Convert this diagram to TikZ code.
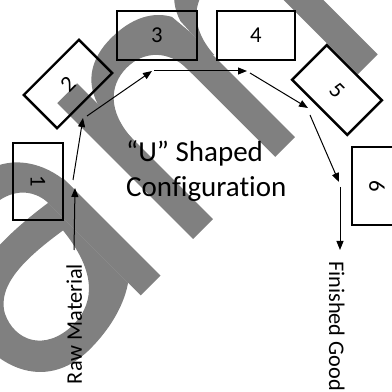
\documentclass[tikz,border=0pt]{standalone}
\usepackage{fontspec}
\setmainfont{Carlito}[RawFeature={-liga}]
\usetikzlibrary{arrows.meta}
\definecolor{wm}{gray}{0.5}
\begin{document}
\begin{tikzpicture}[x=1pt,y=1pt,
  station/.style={draw=black, line width=2.4pt, inner sep=0pt,
    font=\fontsize{22.7}{27}\selectfont},
  flow/.style={line width=1pt, -{Triangle[length=9pt,width=7pt]}},
  lbl/.style={inner sep=0pt, font=\fontsize{22.3}{27}\selectfont},
  title/.style={inner sep=0pt, anchor=base west, font=\fontsize{29}{35}\selectfont}]
\useasboundingbox (0,0) rectangle (392,392);

% background lettering, set along the diagonal
\begin{scope}[shift={(203,163)}, rotate=45, wm]
  % letter a: stem, hook and bowl
  \fill (-91,-3) rectangle (-63,135);
  \fill (-63,120) -- (-63,125) .. controls (-64,160) and (-85,195) .. (-128,197)
        .. controls (-160,198) and (-180,185) .. (-190,165)
        -- (-175,145) .. controls (-165,158) and (-150,167) .. (-128,165)
        .. controls (-105,162) and (-93,148) .. (-91,130) -- (-91,120) -- cycle;
  \fill[even odd rule]
        (-91,128) .. controls (-140,135) and (-215,140) .. (-232,95)
        .. controls (-245,55) and (-230,-5) .. (-165,-5)
        .. controls (-130,-5) and (-105,5) .. (-91,15) -- cycle
        (-100,98) .. controls (-140,104) and (-185,108) .. (-200,80)
        .. controls (-212,55) and (-200,25) .. (-160,24)
        .. controls (-125,24) and (-105,50) .. (-100,98) -- cycle;
  % letter m: three stems and two arches
  \fill (-14,0) rectangle (14,192);
  \fill (102,0) rectangle (130,150);
  \fill (219,0) rectangle (247,150);
  \foreach \d in {0,117} {
    \fill (\d+12,118) -- (\d+14,163) .. controls (\d+22,188) and (\d+42,200) .. (\d+70,200)
          .. controls (\d+98,200) and (\d+118,190) .. (\d+128,172)
          -- (\d+130,150) -- (\d+130,118) -- (\d+102,118) -- (\d+102,125)
          .. controls (\d+102,150) and (\d+85,168) .. (\d+60,168)
          .. controls (\d+35,168) and (\d+16,150) .. (\d+14,115) -- cycle;
  }
\end{scope}

% work stations
\node[station, minimum width=77pt, minimum height=50pt, rotate=-90] (s1) at (38,210.5) {1};
\node[station, minimum width=78pt, minimum height=47pt, rotate=45] (s2) at (68,308) {2};
\node[station, minimum width=80pt, minimum height=49pt] (s3) at (157,356.5) {3};
\node[station, minimum width=78pt, minimum height=49pt] (s4) at (256,356.5) {4};
\node[station, minimum width=78pt, minimum height=49pt, rotate=-45] (s5) at (337,302) {5};
\node[station, minimum width=78pt, minimum height=50pt, rotate=-90] (s6) at (377,206) {6};

% flow path
\coordinate (r0) at (74,142);  \coordinate (r1) at (75,204);
\coordinate (q0) at (73,212);  \coordinate (q1) at (83,274);
\coordinate (q2) at (87,276);  \coordinate (q3) at (152,321);
\coordinate (q4) at (154,321); \coordinate (q5) at (247,321);
\coordinate (q6) at (250,319); \coordinate (q7) at (308,284);
\coordinate (q8) at (310,277); \coordinate (q9) at (339,210);
\coordinate (f0) at (340,205); \coordinate (f1) at (340,142);
\draw[flow] (r0) -- (r1);
\draw[flow] (q0) -- (q1);
\draw[flow] (q2) -- (q3);
\draw[flow] (q4) -- (q5);
\draw[flow] (q6) -- (q7);
\draw[flow] (q8) -- (q9);
\draw[flow] (f0) -- (f1);

% labels
\node[title] (t1) at (126,230) {“U” Shaped};
\node[title] (t2) at (126,195) {Configuration};
\node[lbl, rotate=90, anchor=base] (raw) at (82,68) {Raw Material};
\node[lbl, rotate=-90, anchor=base west] (fin) at (329,131) {Finished Good};
\end{tikzpicture}
\end{document}
